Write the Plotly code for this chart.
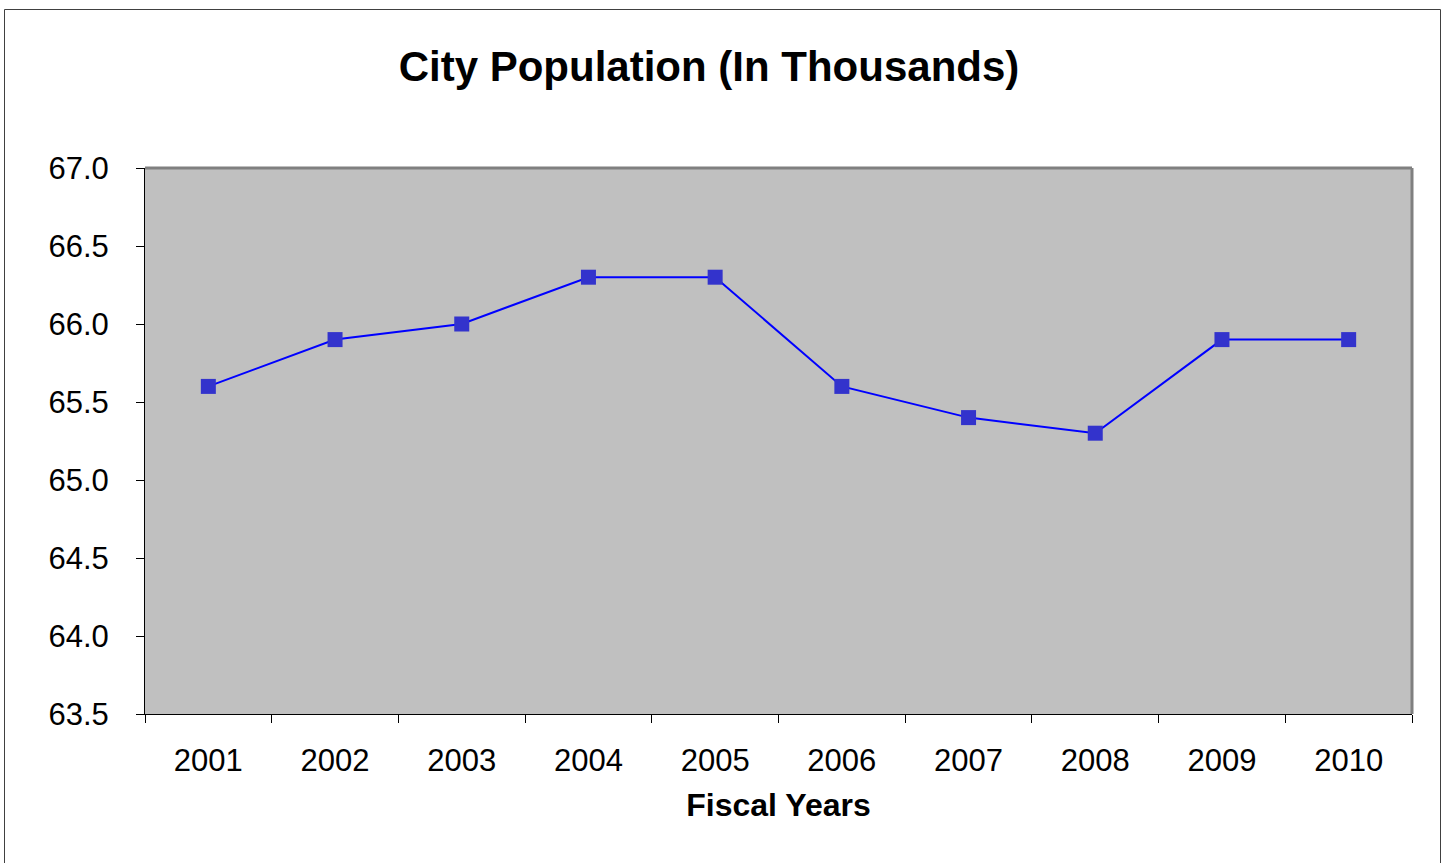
import plotly.graph_objects as go

years = ["2001", "2002", "2003", "2004", "2005", "2006", "2007", "2008", "2009", "2010"]
population = [65.6, 65.9, 66.0, 66.3, 66.3, 65.6, 65.4, 65.3, 65.9, 65.9]

y_ticks = [63.5, 64.0, 64.5, 65.0, 65.5, 66.0, 66.5, 67.0]

FONT = "Liberation Sans, Arial, sans-serif"

fig = go.Figure()
fig.add_trace(go.Scatter(
    x=years, y=population, mode="lines+markers",
    line=dict(color="#0000FF", width=2),
    marker=dict(symbol="square", size=15, color="#3333CC", line=dict(width=0)),
    showlegend=False,
))

L, R, T, B = 145, 33, 168, 149
W, H = 1445, 863
pw, ph = W - L - R, H - T - B

def px_x(x):
    return (x - L) / pw

def px_y(y):
    return (H - B - y) / ph

fig.update_layout(
    width=W, height=H,
    margin=dict(l=L, r=R, t=T, b=B),
    paper_bgcolor="white",
    plot_bgcolor="#C0C0C0",
    font=dict(family=FONT, color="black", size=31),
    title=dict(text="<b>City Population (In Thousands)</b>",
               x=709 / W, xanchor="center", xref="container",
               y=1 - 66 / H, yanchor="middle",
               font=dict(size=42, family=FONT, color="black")),
    xaxis=dict(
        type="category", tickson="boundaries", ticks="outside", ticklen=8,
        tickcolor="black", tickwidth=1,
        showline=True, linecolor="black", linewidth=1,
        showgrid=False, zeroline=False,
        tickfont=dict(size=31, family=FONT),
        ticklabelstandoff=19,
        title=dict(text="<b>Fiscal Years</b>", font=dict(size=32, family=FONT), standoff=16),
        range=[-0.5, 9.5],
    ),
    yaxis=dict(
        range=[63.5, 67.0], tickvals=y_ticks, tickformat=".1f",
        ticks="outside", ticklen=8, tickcolor="black", tickwidth=1,
        showline=True, linecolor="black", linewidth=1,
        showgrid=False, zeroline=False,
        tickfont=dict(size=31, family=FONT),
        ticklabelstandoff=21,
    ),
    shapes=[
        dict(type="line", xref="paper", yref="paper", x0=0, x1=1, y0=1, y1=1,
             line=dict(color="#808080", width=3)),
        dict(type="line", xref="paper", yref="paper", x0=1, x1=1, y0=0, y1=1,
             line=dict(color="#808080", width=3)),
        dict(type="rect", xref="paper", yref="paper",
             x0=px_x(4.5), x1=px_x(1440.5), y0=px_y(880), y1=px_y(9.5),
             line=dict(color="#404040", width=1), layer="below"),
    ],
)

fig.write_html("out.html")
